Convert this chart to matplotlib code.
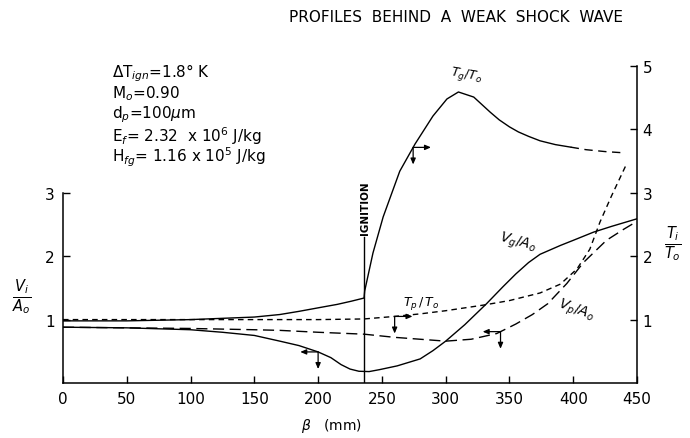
import matplotlib.pyplot as plt
import numpy as np

plt.rcParams['font.family'] = ['DejaVu Sans']
plt.rcParams['mathtext.fontset'] = 'dejavusans'

# distance behind the shock (mm) and the four profiles
tg_x = [0, 50, 100, 150, 170, 185, 204, 215, 226, 236, 236.5, 243, 251, 264, 276,
        290, 301, 310, 322, 335, 342, 350, 357, 365, 374, 386, 398]
tg_y = [0.98, 0.98, 1.0, 1.04, 1.08, 1.13, 1.2, 1.24, 1.29, 1.34, 1.45, 2.05, 2.62,
        3.34, 3.77, 4.21, 4.48, 4.59, 4.51, 4.27, 4.15, 4.04, 3.96, 3.89, 3.82,
        3.76, 3.72]
tg_tail_x = [398, 410, 425, 440]
tg_tail_y = [3.72, 3.68, 3.65, 3.63]

vg_x = [0, 50, 100, 125, 150, 170, 185, 200, 210, 218, 225, 232, 240, 248, 262,
        280, 290, 300, 315, 332, 345, 355, 365, 374, 390, 400, 416, 430, 450]
vg_y = [0.88, 0.87, 0.84, 0.80, 0.75, 0.66, 0.59, 0.49, 0.40, 0.29, 0.22, 0.185,
        0.18, 0.21, 0.27, 0.38, 0.51, 0.66, 0.92, 1.25, 1.52, 1.72, 1.9, 2.03,
        2.17, 2.25, 2.38, 2.47, 2.59]

tp_x = [0, 100, 150, 200, 236, 260, 280, 300, 330, 350, 374, 390, 403, 413,
        421, 430, 441]
tp_y = [1.0, 1.0, 1.0, 1.0, 1.01, 1.05, 1.09, 1.14, 1.23, 1.3, 1.42, 1.56,
        1.8, 2.11, 2.54, 2.95, 3.42]

vp_x = [0, 50, 100, 150, 170, 200, 236, 260, 280, 300, 320, 340, 355, 368, 380,
        395, 408, 426, 440, 450]
vp_y = [0.88, 0.87, 0.86, 0.84, 0.83, 0.80, 0.77, 0.72, 0.69, 0.66, 0.69, 0.78,
        0.93, 1.08, 1.25, 1.57, 1.9, 2.25, 2.43, 2.55]

x_ignition = 236
params = [r'$\Delta$T$_{ign}$=1.8° K',
          r'M$_o$=0.90',
          r'd$_p$=100$\mu$m',
          r'E$_f$= 2.32  x 10$^6$ J/kg',
          r'H$_{fg}$= 1.16 x 10$^5$ J/kg']

fig = plt.figure(figsize=(6.9, 4.39), dpi=100)
ax = fig.add_axes([0.0913, 0.1253, 0.8319, 0.7221])
ax.set_xlim(0, 450)
ax.set_ylim(0, 5)

lw = 1.0
ax.plot(tg_x, tg_y, color='black', lw=lw)
ax.plot(tg_tail_x, tg_tail_y, color='black', lw=lw, dashes=(6, 4))
ax.plot(vg_x, vg_y, color='black', lw=lw)
ax.plot(tp_x, tp_y, color='black', lw=lw, dashes=(4, 3))
ax.plot(vp_x, vp_y, color='black', lw=lw, dashes=(8, 4))

# ignition marker
ax.plot([x_ignition, x_ignition], [0, 2.3], color='black', lw=lw)
ax.text(x_ignition + 1, 2.77, 'IGNITION', rotation=90, ha='center', va='center',
        fontsize=7.5, fontweight='bold')

# axis indicator arrows: horizontal one points to the axis used, vertical one down
arrow_kw = dict(arrowstyle='-|>,head_length=0.35,head_width=0.15', color='black',
                lw=0.9, shrinkA=0, shrinkB=0)
for sx, sy, xc, side in [(tg_x, tg_y, 274.5, 1), (vg_x, vg_y, 200, -1),
                         (tp_x, tp_y, 260, 1), (vp_x, vp_y, 343, -1)]:
    yc = np.interp(xc, sx, sy)
    ax.annotate('', xy=(xc + side * 14, yc), xytext=(xc, yc), arrowprops=arrow_kw)
    ax.annotate('', xy=(xc, yc - 0.27), xytext=(xc, yc), arrowprops=arrow_kw)

# curve labels
ax.text(316, 4.86, r'$T_g/T_o$', fontsize=9, ha='center', va='center', rotation=-10)
ax.text(356, 2.22, r'$V_g/A_o$', fontsize=10, ha='center', va='center', rotation=-15)
ax.text(281, 1.27, r'$T_p\,/\,T_o$', fontsize=9, ha='center', va='center')
ax.text(402, 1.16, r'$V_p/A_o$', fontsize=10, ha='center', va='center', rotation=-20)

# spines and ticks
ax.spines['top'].set_visible(False)
ax.spines['right'].set_visible(False)
ax.spines['left'].set_bounds(0, 3)
ax.set_xticks(range(0, 451, 50))
ax.set_yticks([1, 2, 3])
ax.tick_params(direction='in', length=5, width=1, labelsize=11, pad=6)

axr = ax.twinx()
axr.set_ylim(0, 5)
for s in ['top', 'left', 'bottom']:
    axr.spines[s].set_visible(False)
axr.spines['right'].set_bounds(0, 5)
axr.set_yticks([1, 2, 3, 4, 5])
axr.tick_params(direction='in', length=5, width=1, labelsize=11, pad=4)

for sp in list(ax.spines.values()) + list(axr.spines.values()):
    sp.set_linewidth(1.1)

fig.text(0.032, 0.322, r'$\frac{V_i}{A_o}$', fontsize=15, ha='center', va='center')
fig.text(0.975, 0.443, r'$\frac{T_i}{T_o}$', fontsize=15, ha='center', va='center')
fig.text(0.48, 0.03, r'$\beta$   (mm)', fontsize=10, ha='center', va='center')
fig.text(0.661, 0.959, 'PROFILES  BEHIND  A  WEAK  SHOCK  WAVE', fontsize=11,
         ha='center', va='center')

for i, line in enumerate(params):
    fig.text(0.162, 1 - (73 + 21 * i) / 439, line, fontsize=11, ha='left', va='center')

fig.savefig('out.png', dpi=100)
